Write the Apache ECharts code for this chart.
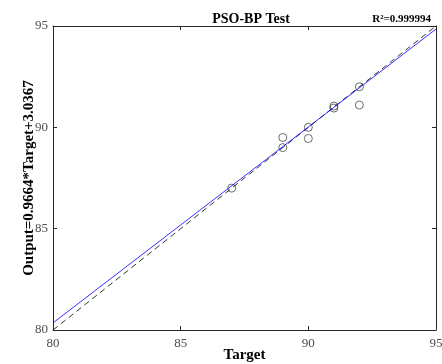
<!DOCTYPE html>
<html><head><meta charset="utf-8">
<script src="https://cdn.jsdelivr.net/npm/echarts@6/dist/echarts.min.js"></script>
<style>html,body{margin:0;padding:0;background:#fff}#c{width:442px;height:364px}</style>
</head><body><div id="c"></div>
<script>
const titleText = 'PSO-BP Test';
const r2Text = 'R²=0.999994';
const xName = 'Target';
const yName = 'Output=0.9664*Target+3.0367';
const targets = [87, 89, 89, 90, 90, 91, 91, 92, 92];
const outputs = [87, 89, 89.5, 90, 89.45, 91.05, 90.95, 92, 91.1];
const fitX = [80, 95];
const fitY = [80.35, 94.85];
const idealX = [80, 95];
const idealY = [80, 95];
const axisMin = 80, axisMax = 95, axisStep = 5;

const font = 'Liberation Serif';
const ax = '#262626';
const chart = echarts.init(document.getElementById('c'), null, {renderer: 'canvas'});
const baseAxis = (show, pos) => ({
  type: 'value', min: axisMin, max: axisMax, interval: axisStep, position: pos,
  axisLine: {show: true, onZero: false, lineStyle: {color: ax, width: 1}},
  axisTick: {show: true, inside: true, length: 4, lineStyle: {color: ax}},
  axisLabel: {show: show, fontFamily: font, fontSize: 13, color: '#4d4d4d'},
  splitLine: {show: false}
});
const xb = baseAxis(true, 'bottom');
xb.axisLabel.margin = 7;
xb.name = xName; xb.nameLocation = 'middle'; xb.nameGap = 18; xb.nameMoveOverlap = false;
xb.nameTextStyle = {fontFamily: font, fontSize: 15, fontWeight: 'bold', color: '#000'};
const yl = baseAxis(true, 'left');
yl.axisLabel.margin = 5;
yl.name = yName; yl.nameLocation = 'middle'; yl.nameGap = 16; yl.nameMoveOverlap = false;
yl.nameTextStyle = {fontFamily: font, fontSize: 15, fontWeight: 'bold', color: '#000'};
chart.setOption({
  animation: false,
  backgroundColor: '#fff',
  title: [
    {text: titleText, left: 246, top: 7, textAlign: 'center',
     textStyle: {fontFamily: font, fontSize: 14, fontWeight: 'bold', color: '#000'}},
    {text: r2Text, right: 6, top: 9,
     textStyle: {fontFamily: font, fontSize: 11, fontWeight: 'bold', color: '#000'}}
  ],
  grid: {left: 53, right: 6, top: 26, bottom: 34, containLabel: false, outerBoundsMode: 'none'},
  xAxis: [xb, baseAxis(false, 'top')],
  yAxis: [yl, baseAxis(false, 'right')],
  series: [
    {type: 'line', xAxisIndex: 0, yAxisIndex: 0, symbol: 'none', silent: true,
     data: idealX.map((x, i) => [x, idealY[i]]),
     lineStyle: {color: '#000', width: 0.8, type: [6, 4]}},
    {type: 'line', xAxisIndex: 0, yAxisIndex: 0, symbol: 'none', silent: true,
     data: fitX.map((x, i) => [x, fitY[i]]),
     lineStyle: {color: '#0000ff', width: 0.8}},
    {type: 'scatter', xAxisIndex: 0, yAxisIndex: 0, symbol: 'circle', symbolSize: 8,
     data: targets.map((x, i) => [x, outputs[i]]),
     itemStyle: {color: 'rgba(0,0,0,0)', borderColor: '#333', borderWidth: 0.9}}
  ]
});
</script></body></html>
